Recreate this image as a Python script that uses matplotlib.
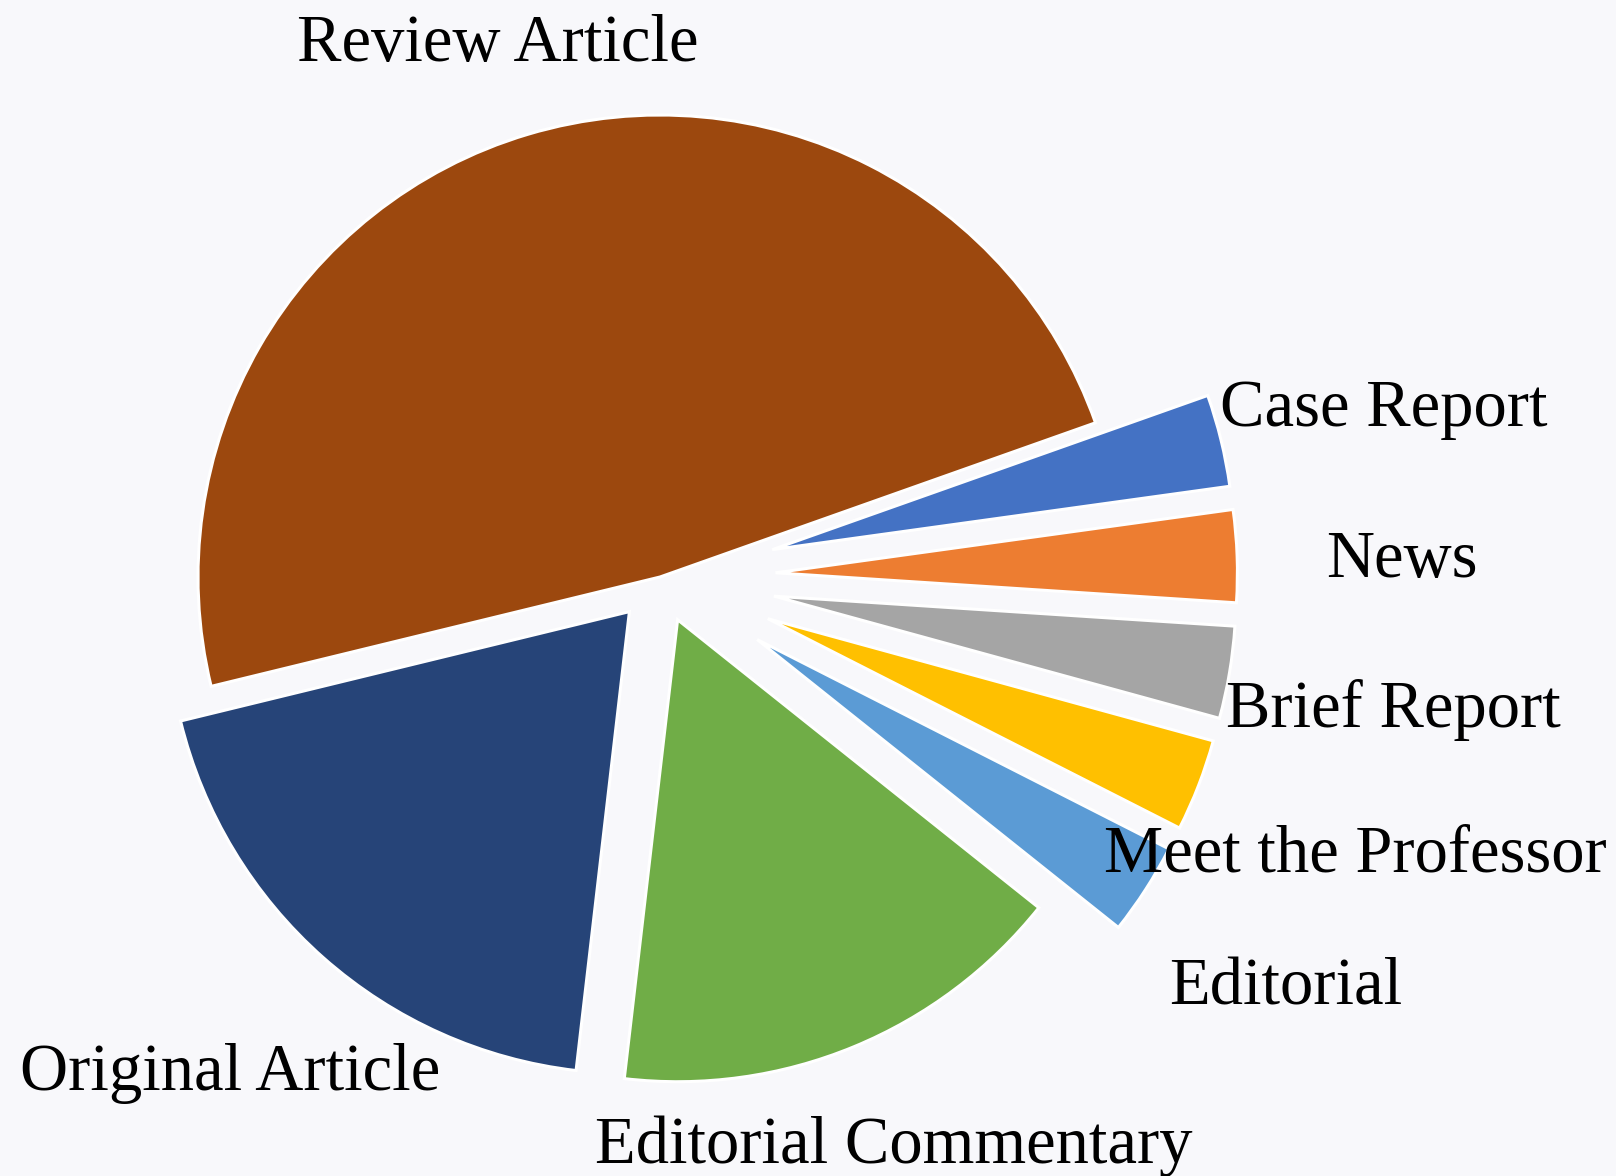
import numpy as np
import matplotlib.pyplot as plt

# article types and counts (counter-clockwise from Review Article)
categories = ["Review Article", "Original Article", "Editorial Commentary", "Editorial",
              "Meet the Professor", "Brief Report", "News", "Case Report"]
counts = [45, 18, 15, 3, 3, 3, 3, 3]

colors = ["#9C480E", "#264478", "#70AD47", "#5B9BD5",
          "#FFC000", "#A5A5A5", "#ED7D31", "#4472C4"]
explode = [0, 0.1, 0.1, 0.25, 0.25, 0.25, 0.25, 0.25]

# label centres in figure pixels (from top-left)
label_px = [(498, 44), (230, 1073), (894, 1146), (1286, 988),
            (1355, 855), (1393, 710), (1402, 561), (1384, 409)]

W, H = 1616, 1176
cx, cy, R = 660, 577, 462  # pie centre / radius in pixels
bg = "#F8F8FB"

fig = plt.figure(figsize=(W / 100, H / 100), dpi=100)
fig.patch.set_facecolor(bg)
ax = fig.add_axes([0, 0, 1, 1])
ax.set_facecolor(bg)

ax.pie(counts, colors=colors, explode=explode, startangle=19.5,
       counterclock=True, radius=1,
       wedgeprops=dict(edgecolor="white", linewidth=2.2, joinstyle="miter"))

ax.set_xlim(-cx / R, (W - cx) / R)
ax.set_ylim(-(H - cy) / R, cy / R)
ax.set_aspect("auto")
ax.axis("off")

for name, (px, py) in zip(categories, label_px):
    fig.text(px / W, 1 - py / H, name, ha="center", va="center",
             fontsize=48, family="Liberation Serif", color="black")

fig.savefig("out.png", dpi=100, facecolor=fig.get_facecolor())
